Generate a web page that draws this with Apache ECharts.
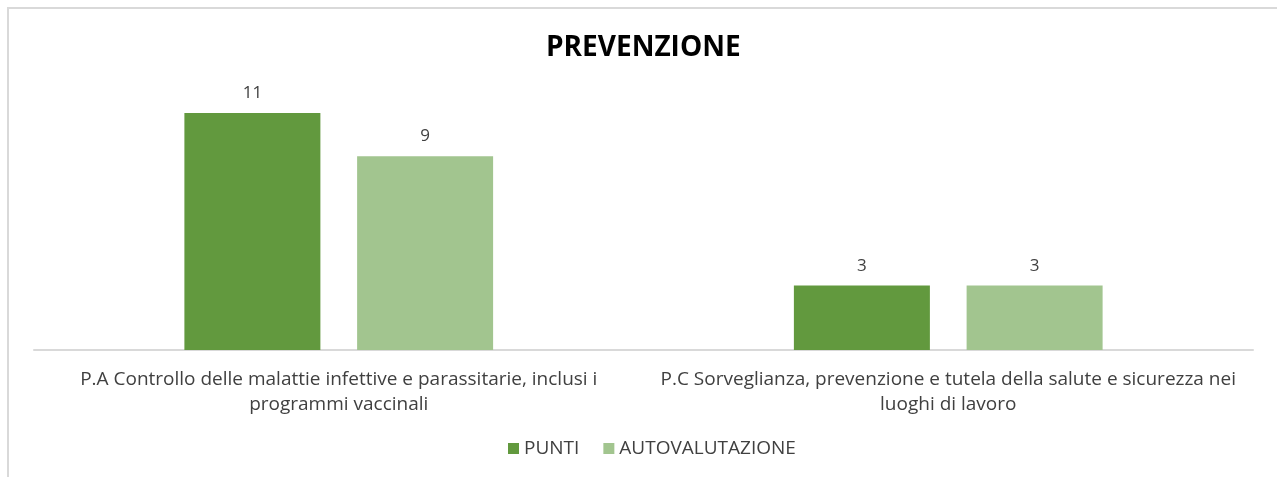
<!DOCTYPE html>
<html>
<head>
<meta charset="UTF-8">
<title>PREVENZIONE</title>
<script src="https://cdn.jsdelivr.net/npm/echarts@6/dist/echarts.min.js"></script>
<style>
  html, body { margin: 0; padding: 0; background: #fff; }
  #frame { position: absolute; left: 7px; top: 7px; width: 1290px; height: 500px; border: 2px solid #d9d9d9; box-sizing: border-box; }
  #chart { position: absolute; left: 0; top: 0; width: 1277px; height: 477px; }
</style>
</head>
<body>
<div id="frame"></div>
<div id="chart"></div>
<script>
// dati
var categorie = [
  'P.A Controllo delle malattie infettive e parassitarie, inclusi i\nprogrammi vaccinali',
  'P.C Sorveglianza, prevenzione e tutela della salute e sicurezza nei\nluoghi di lavoro'
];
var punti = [11, 3];
var autovalutazione = [9, 3];

var font = 'Open Sans';
var myChart = echarts.init(document.getElementById('chart'));
var labelStyle = { show: true, position: 'top', color: '#404040', fontSize: 17, fontFamily: font, distance: 11 };

myChart.setOption({
  animation: false,
  title: {
    text: 'PREVENZIONE',
    left: 541,
    top: 29,
    textStyle: { fontFamily: font, fontWeight: 'bold', fontSize: 28, color: '#000' }
  },
  legend: {
    top: 434,
    left: 503,
    itemWidth: 11,
    itemHeight: 11,
    itemGap: 24,
    icon: 'rect',
    textStyle: { fontFamily: font, fontSize: 19, color: '#404040' },
    data: ['PUNTI', 'AUTOVALUTAZIONE']
  },
  grid: { left: 34, right: 24, top: 91.5, bottom: 127 },
  xAxis: {
    type: 'category',
    data: categorie,
    axisLine: { lineStyle: { color: '#d9d9d9', width: 2 } },
    axisTick: { show: false },
    axisLabel: { interval: 0, color: '#404040', fontSize: 19, fontFamily: font, lineHeight: 25, margin: 17 }
  },
  yAxis: {
    type: 'value',
    min: 0,
    max: 12,
    show: false,
    splitLine: { show: false }
  },
  series: [
    {
      name: 'PUNTI',
      type: 'bar',
      data: punti,
      barWidth: 136,
      barGap: '27%',
      itemStyle: { color: '#62993e' },
      label: labelStyle
    },
    {
      name: 'AUTOVALUTAZIONE',
      type: 'bar',
      data: autovalutazione,
      barWidth: 136,
      itemStyle: { color: '#a2c58f' },
      label: labelStyle
    }
  ]
});
</script>
</body>
</html>
